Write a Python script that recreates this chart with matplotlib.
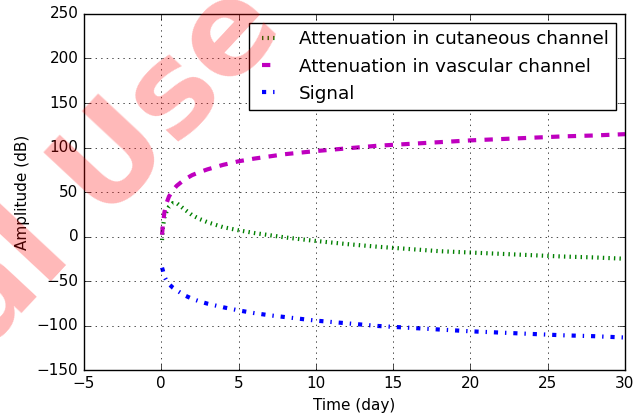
import matplotlib
matplotlib.use('Agg')
import matplotlib.pyplot as plt

# time axis in days
time_days = [0.05, 0.1, 0.2, 0.35, 0.5, 0.75, 1, 1.5, 2, 2.5, 3, 4, 5, 6, 7, 8,
             10, 12, 14, 16, 18, 20, 22, 24, 26, 28, 30]

# attenuation / signal values in dB
cutaneous = [-4, 10, 21, 28.5, 33.5, 37.5, 37.5, 30.5, 24, 19.5, 16, 10.5, 7, 4, 1.5, -1,
             -5, -8.5, -11.5, -14, -16.5, -18, -19.5, -21, -22.5, -23.5, -25]
vascular = [2, 12, 27, 38, 45, 52, 57, 64, 69, 72.5, 75.5, 80.5, 84.5, 87.5, 90, 92.5,
            96, 99, 102, 104, 106, 108, 109.5, 111, 112.5, 113.5, 115]
signal = [-35, -38, -45, -50, -53.5, -57.5, -60.5, -66, -70, -73, -75.5, -79.5, -83, -86, -88.5, -90.5,
          -94.5, -97.5, -100.5, -102.5, -104.5, -106.5, -108, -109.5, -111, -112, -113.5]

labels = ['Attenuation in cutaneous channel', 'Attenuation in vascular channel', 'Signal']

plt.style.use('classic')
plt.rcParams['font.size'] = 11
plt.rcParams['legend.fontsize'] = 13.2

fig = plt.figure(figsize=(6.43, 4.19), dpi=100)
ax = fig.add_axes([0.1306, 0.1169, 0.8414, 0.8497])

ax.plot(time_days, cutaneous, 'g:', lw=3, label=labels[0])
ax.plot(time_days, vascular, 'm--', lw=3, label=labels[1])
ax.plot(time_days, signal, 'b-.', lw=3, label=labels[2])

ax.set_xlim(-5, 30)
ax.set_ylim(-150, 250)
ax.set_xlabel('Time (day)')
ax.set_ylabel('Amplitude (dB)')
ax.grid(True)
ax.legend(loc='upper right', handlelength=1.5)

# watermark
fig.text(-14 / 643, 1 - 352 / 419, 'al Use Only', fontsize=92, fontweight='bold', color='red',
         alpha=0.28, rotation=47, rotation_mode='anchor', ha='left', va='baseline', zorder=10)

fig.savefig('out.png', dpi=100)
